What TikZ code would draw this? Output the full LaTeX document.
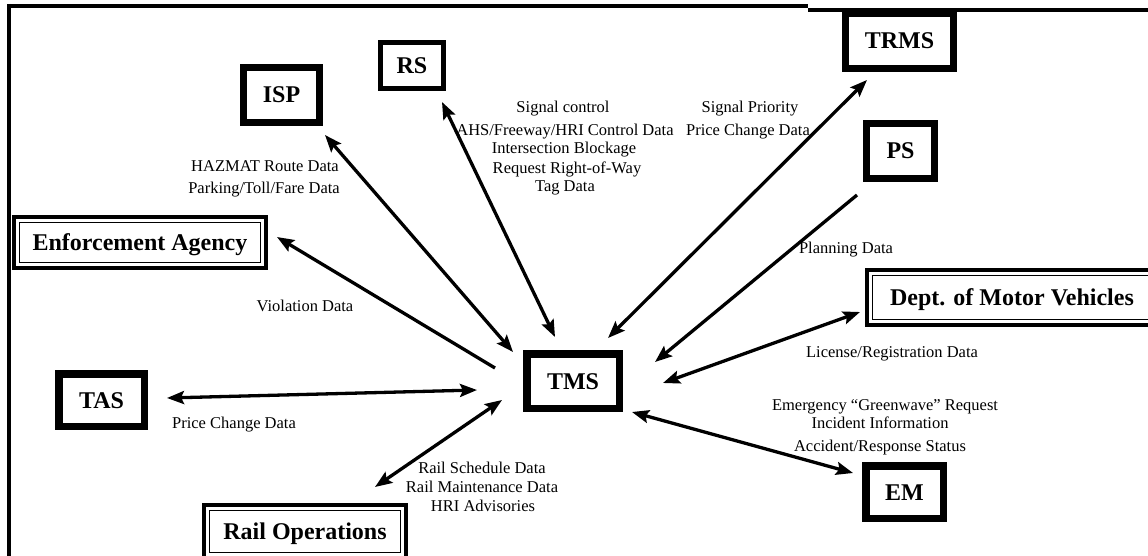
\documentclass[tikz,border=0pt]{standalone}
\usepackage{fontspec}
\setmainfont{Liberation Serif}
\usetikzlibrary{arrows.meta}
\tikzset{
  sysbox/.style={draw, line width=7pt, inner sep=0pt,
    font=\bfseries\fontsize{24}{28}\selectfont, text height=16pt, text depth=0pt},
  agencybox/.style={draw, line width=4pt, inner sep=0pt,
    font=\bfseries\fontsize{24}{28}\selectfont, text height=16pt, text depth=0pt},
  innerline/.style={line width=1.3pt},
  lbl/.style={inner sep=0pt, font=\fontsize{16.5}{20}\selectfont, text height=11pt, text depth=0pt},
  tip/.tip={Stealth[length=17pt,width=13pt,inset=3pt]},
  flow/.style={line width=3.3pt, tip-tip},
  oneway/.style={line width=3.3pt, -tip},
  frame/.style={line width=4pt},
}
\begin{document}
\begin{tikzpicture}[x=1pt, y=-1pt]
\useasboundingbox (0,0) rectangle (1148,556);
\clip (0,0) rectangle (1148,556);

% outer frame (top and left edges)
\draw[frame] (7,6) -- (808,6);
\draw[frame] (808,10) -- (1152,10);
\draw[frame] (9,4) -- (9,560);

% systems
\node[sysbox, minimum width=76pt, minimum height=55pt] (isp) at (281.5,95) {ISP};
\node[sysbox, line width=5pt, minimum width=63pt, minimum height=46pt] (rs) at (412,65.5) {RS};
\node[sysbox, minimum width=108pt, minimum height=55pt] (trms) at (899.5,41) {TRMS};
\node[sysbox, minimum width=68pt, minimum height=55pt] (ps) at (900.5,151) {PS};
\node[sysbox, line width=7.5pt, minimum width=92.5pt, minimum height=54.5pt] (tms) at (573,381) {TMS};
\node[sysbox, line width=7.5pt, minimum width=85.5pt, minimum height=52.5pt] (tas) at (101.5,400) {TAS};
\node[sysbox, line width=7.5pt, minimum width=77.5pt, minimum height=52.5pt] (em) at (904.5,492) {EM};

% external agencies (double border: heavy outer line, thin inner line)
\node[agencybox, minimum width=252pt, minimum height=51pt] (enf) at (140,242.5) {Enforcement Agency};
\node[agencybox, minimum width=202pt, minimum height=53pt] (rail) at (305,531.5) {Rail Operations};
\node[agencybox, minimum width=290pt, minimum height=55pt] (dmv) at (1012,297.5) {Dept. of Motor Vehicles};
\draw[innerline] ([shift={(7.5,7.5)}]enf.north west) rectangle ([shift={(-7.5,-7.5)}]enf.south east);
\draw[innerline] ([shift={(7.5,7.5)}]rail.north west) rectangle ([shift={(-7.5,-7.5)}]rail.south east);
\draw[innerline] ([shift={(7.5,7.5)}]dmv.north west) rectangle ([shift={(-7.5,-7.5)}]dmv.south east);

% connector end points
\coordinate (ispEnd) at (325,135);   \coordinate (tmsIsp) at (513,352);
\coordinate (rsEnd) at (442,102);    \coordinate (tmsRs) at (555,337);
\coordinate (trmsEnd) at (867,80);   \coordinate (tmsTrms) at (608,338);
\coordinate (psEnd) at (857,195);    \coordinate (tmsPs) at (655,362);
\coordinate (dmvEnd) at (860,312);   \coordinate (tmsDmv) at (663,383);
\coordinate (emEnd) at (853,473);    \coordinate (tmsEm) at (632,412);
\coordinate (enfEnd) at (277,237);   \coordinate (tmsEnf) at (495,368);
\coordinate (tasEnd) at (167,398);   \coordinate (tmsTas) at (477,390);
\coordinate (railEnd) at (375,487);  \coordinate (tmsRail) at (502,400);

% data flows
\draw[flow] (ispEnd) -- (tmsIsp);
\draw[flow] (rsEnd) -- (tmsRs);
\draw[flow] (trmsEnd) -- (tmsTrms);
\draw[oneway] (psEnd) -- (tmsPs);
\draw[flow] (dmvEnd) -- (tmsDmv);
\draw[flow] (emEnd) -- (tmsEm);
\draw[oneway] (tmsEnf) -- (enfEnd);
\draw[flow] (tasEnd) -- (tmsTas);
\draw[flow] (railEnd) -- (tmsRail);

% flow labels
\node[lbl] (l1a) at (265,166) {HAZMAT Route Data};
\node[lbl] (l1b) at (264,188) {Parking/Toll/Fare Data};
\node[lbl] (l2a) at (563,107) {Signal control};
\node[lbl] (l2b) at (565,130) {AHS/Freeway/HRI Control Data};
\node[lbl] (l2c) at (564,148) {Intersection Blockage};
\node[lbl] (l2d) at (567,168) {Request Right-of-Way};
\node[lbl] (l2e) at (565,186) {Tag Data};
\node[lbl] (l3a) at (750,107) {Signal Priority};
\node[lbl] (l3b) at (748,130) {Price Change Data};
\node[lbl] (l4) at (846,248) {Planning Data};
\node[lbl] (l5) at (305,306) {Violation Data};
\node[lbl] (l6) at (892,352) {License/Registration Data};
\node[lbl] (l7a) at (885,405) {Emergency “Greenwave” Request};
\node[lbl] (l7b) at (880,423) {Incident Information};
\node[lbl] (l7c) at (880,446) {Accident/Response Status};
\node[lbl] (l8) at (234,423) {Price Change Data};
\node[lbl] (l9a) at (482,468) {Rail Schedule Data};
\node[lbl] (l9b) at (482,487) {Rail Maintenance Data};
\node[lbl] (l9c) at (483,506) {HRI Advisories};
\end{tikzpicture}
\end{document}
